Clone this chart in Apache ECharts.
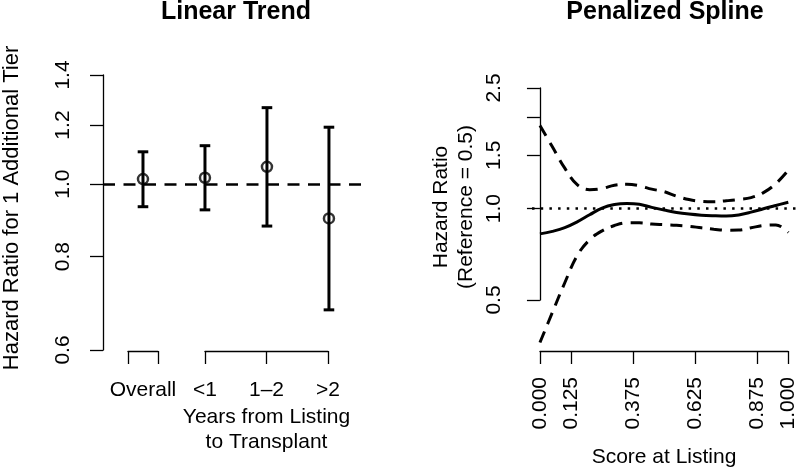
<!DOCTYPE html>
<html>
<head>
<meta charset="utf-8">
<script src="https://cdn.jsdelivr.net/npm/echarts@6/dist/echarts.min.js"></script>
<style>
  html, body { margin: 0; padding: 0; background: #fff; }
  #chart { width: 800px; height: 472px; }
</style>
</head>
<body>
<div id="chart"></div>
<script>
// left panel: hazard ratio for 1 additional tier
const groups = ['Overall', '<1', '1–2', '>2']
const groupPos = [1, 2, 3, 4]
const hrEst = [1.016, 1.02, 1.055, 0.90]
const hrLow = [0.933, 0.924, 0.879, 0.679]
const hrHigh = [1.105, 1.126, 1.266, 1.192]
const leftTicks = [0.6, 0.8, 1.0, 1.2, 1.4]
const leftTickLabels = ['0.6', '0.8', '1.0', '1.2', '1.4']

// right panel: penalized spline over score at listing
const score = [0, 0.05, 0.1, 0.15, 0.2, 0.25, 0.3, 0.35, 0.4, 0.45, 0.5, 0.55, 0.6, 0.65, 0.7, 0.75, 0.8, 0.85, 0.9, 0.95, 1]
const splineEst = [0.826, 0.842, 0.866, 0.905, 0.955, 1.005, 1.032, 1.040, 1.034, 1.010, 0.990, 0.972, 0.960, 0.952, 0.948, 0.946, 0.954, 0.974, 1.000, 1.025, 1.050]
const splineHigh = [1.88, 1.60, 1.36, 1.20, 1.155, 1.165, 1.195, 1.203, 1.19, 1.16, 1.138, 1.10, 1.072, 1.058, 1.055, 1.062, 1.072, 1.088, 1.13, 1.21, 1.34]
const splineLow = [0.362, 0.455, 0.57, 0.70, 0.79, 0.845, 0.88, 0.898, 0.898, 0.89, 0.886, 0.882, 0.875, 0.865, 0.856, 0.849, 0.85, 0.865, 0.88, 0.884, 0.835]
const rightTicks = [0.5, 1.0, 1.5, 2.0, 2.5]
const rightTickLabels = ['0.5', '1.0', '1.5', '', '2.5']
const scoreTicks = [0, 0.125, 0.375, 0.625, 0.875, 1]

const font = 'Liberation Sans, Arial, Helvetica, sans-serif'
const ink = '#000'

// log scale is done by hand: values go in as ln(hr), labels map back
function tickLabel(ticks, labels) {
  return v => {
    const i = ticks.findIndex(t => Math.abs(Math.log(t) - v) < 1e-6)
    return i < 0 ? '' : labels[i]
  }
}

const axisLine = { show: true, lineStyle: { color: ink, width: 1.3 } }
const axisTick = { show: true, length: 13, lineStyle: { color: ink, width: 1.3 } }
const labelText = { color: ink, fontSize: 21, fontFamily: font }
const hidden = { show: false }

const chart = echarts.init(document.getElementById('chart'), null, { renderer: 'canvas' })

chart.setOption({
  animation: false,
  backgroundColor: '#fff',
  title: [
    { text: 'Linear Trend', left: 236, top: 0, textAlign: 'center', padding: 0,
      textStyle: { color: ink, fontSize: 25, fontWeight: 'bold', fontFamily: font } },
    { text: 'Penalized Spline', left: 665, top: 0, textAlign: 'center', padding: 0,
      textStyle: { color: ink, fontSize: 25, fontWeight: 'bold', fontFamily: font } }
  ],
  grid: [
    { left: 103, top: 75, width: 265, height: 275, containLabel: false, outerBoundsMode: 'none' },
    { left: 128, top: 350, width: 30, height: 1, containLabel: false, outerBoundsMode: 'none' },
    { left: 205, top: 350, width: 123, height: 1, containLabel: false, outerBoundsMode: 'none' },
    { left: 532, top: 88, width: 266, height: 212, containLabel: false, outerBoundsMode: 'none' },
    { left: 540, top: 350, width: 248, height: 1, containLabel: false, outerBoundsMode: 'none' }
  ],
  xAxis: [
    { gridIndex: 0, type: 'value', min: 0.355, max: 4.63, show: false },
    {
      gridIndex: 1, type: 'category', data: groups.slice(0, 1), boundaryGap: true,
      axisLine, axisTick: { ...axisTick, interval: 0 },
      axisLabel: { ...labelText, margin: 29, interval: 0 },
      splitLine: hidden
    },
    {
      gridIndex: 2, type: 'category', data: groups.slice(1), boundaryGap: false,
      axisLine, axisTick: { ...axisTick, interval: 0 },
      axisLabel: { ...labelText, margin: 29, interval: 0 },
      splitLine: hidden,
      name: 'Years from Listing\nto Transplant', nameLocation: 'middle', nameGap: 54,
      nameTextStyle: { ...labelText, lineHeight: 25 }
    },
    { gridIndex: 3, type: 'value', min: -0.032, max: 1.039, show: false },
    {
      gridIndex: 4, type: 'value', min: 0, max: 1,
      axisLine, axisTick: { ...axisTick, customValues: scoreTicks },
      axisLabel: { ...labelText, margin: 26, rotate: 90, customValues: scoreTicks,
        formatter: v => v.toFixed(3) },
      splitLine: hidden,
      name: 'Score at Listing', nameLocation: 'middle', nameGap: 96,
      nameTextStyle: { ...labelText }
    }
  ],
  yAxis: [
    {
      gridIndex: 0, type: 'value', min: Math.log(0.6), max: Math.log(1.4),
      axisLine, axisTick: { ...axisTick, customValues: leftTicks.map(Math.log) },
      axisLabel: { ...labelText, margin: 29, rotate: 90, customValues: leftTicks.map(Math.log),
        formatter: tickLabel(leftTicks, leftTickLabels) },
      splitLine: hidden,
      name: 'Hazard Ratio for 1 Additional Tier', nameLocation: 'middle', nameGap: 80, nameRotate: 90,
      nameTextStyle: { ...labelText, fontSize: 22, padding: [0, 0, 0, 9] }
    },
    { gridIndex: 1, type: 'value', show: false },
    { gridIndex: 2, type: 'value', show: false },
    {
      gridIndex: 3, type: 'value', min: Math.log(0.5), max: Math.log(2.5),
      axisLine, axisTick: { ...axisTick, customValues: rightTicks.map(Math.log) },
      axisLabel: { ...labelText, margin: 27, rotate: 90, customValues: rightTicks.map(Math.log),
        formatter: tickLabel(rightTicks, rightTickLabels) },
      splitLine: hidden,
      name: 'Hazard Ratio\n(Reference = 0.5)', nameLocation: 'middle', nameGap: 53, nameRotate: 90,
      nameTextStyle: { ...labelText, lineHeight: 25, padding: [0, 26, 0, 0] }
    },
    { gridIndex: 4, type: 'value', show: false }
  ],
  series: [
    {
      // error bars
      type: 'custom',
      xAxisIndex: 0,
      yAxisIndex: 0,
      clip: false,
      data: groupPos.map((p, i) => [p, Math.log(hrLow[i]), Math.log(hrHigh[i])]),
      encode: { x: 0, y: [1, 2] },
      renderItem(params, api) {
        const lo = api.coord([api.value(0), api.value(1)])
        const hi = api.coord([api.value(0), api.value(2)])
        const half = 5.3
        const style = { stroke: ink, lineWidth: 3 }
        return {
          type: 'group',
          children: [
            { type: 'line', shape: { x1: lo[0], y1: lo[1], x2: hi[0], y2: hi[1] }, style },
            { type: 'line', shape: { x1: lo[0] - half, y1: lo[1], x2: lo[0] + half, y2: lo[1] }, style },
            { type: 'line', shape: { x1: hi[0] - half, y1: hi[1], x2: hi[0] + half, y2: hi[1] }, style }
          ]
        }
      }
    },
    {
      type: 'scatter',
      xAxisIndex: 0,
      yAxisIndex: 0,
      symbol: 'circle',
      symbolSize: 10,
      itemStyle: { color: 'transparent', borderColor: ink, borderWidth: 2.5 },
      data: groupPos.map((p, i) => [p, Math.log(hrEst[i])]),
      markLine: {
        silent: true,
        symbol: 'none',
        label: hidden,
        lineStyle: { color: ink, width: 2.5, type: [12, 8.5] },
        data: [{ yAxis: 0 }]
      },
      z: 3
    },
    {
      type: 'line',
      xAxisIndex: 3,
      yAxisIndex: 3,
      clip: false,
      smooth: 0.4,
      showSymbol: false,
      lineStyle: { color: ink, width: 3 },
      data: score.map((s, i) => [s, Math.log(splineEst[i])]),
      markLine: {
        silent: true,
        symbol: 'none',
        label: hidden,
        lineStyle: { color: ink, width: 2.5, type: [2.5, 6.2] },
        data: [{ yAxis: 0 }]
      }
    },
    {
      type: 'line',
      xAxisIndex: 3,
      yAxisIndex: 3,
      clip: false,
      smooth: 0.4,
      showSymbol: false,
      lineStyle: { color: ink, width: 3, type: [12, 8] },
      data: score.map((s, i) => [s, Math.log(splineHigh[i])])
    },
    {
      type: 'line',
      xAxisIndex: 3,
      yAxisIndex: 3,
      clip: false,
      smooth: 0.4,
      showSymbol: false,
      lineStyle: { color: ink, width: 3, type: [12, 8] },
      data: score.map((s, i) => [s, Math.log(splineLow[i])])
    }
  ]
})
</script>
</body>
</html>
